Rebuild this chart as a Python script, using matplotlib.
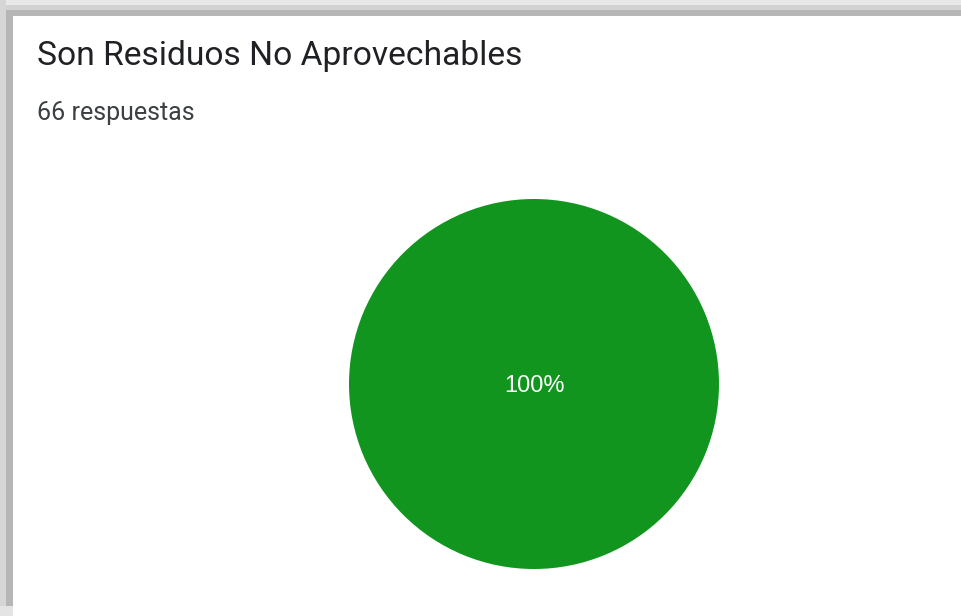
import matplotlib.pyplot as plt
from matplotlib.patches import Rectangle

# Data
title = 'Son Residuos No Aprovechables'
subtitle = '66 respuestas'
categories = ['Sí']
values = [66]
colors = ['#12951e']

W, H = 961, 616
fig = plt.figure(figsize=(W / 100, H / 100), dpi=100)
fig.patch.set_facecolor('white')

# Card shadow along top and left edges
def px_rect(x, y, w, h, color):
    fig.patches.append(Rectangle((x / W, 1 - (y + h) / H), w / W, h / H,
                                 transform=fig.transFigure, color=color,
                                 lw=0, zorder=0))

px_rect(0, 0, W, 5, '#e8e8e8')
px_rect(0, 5, W, 5, '#d2d2d2')
px_rect(0, 10, W, 6, '#b6b6b6')
px_rect(0, 0, 6, H, '#d6d6d6')
px_rect(6, 10, 7, H, '#b6b6b6')
px_rect(0, H - 10, 13, 10, '#e4e4e4')

# Title and subtitle
fig.text(37 / W, 1 - 65 / H, title, fontsize=24.2, family='Roboto',
         color='#202124', va='baseline', ha='left')
fig.text(37 / W, 1 - 120 / H, subtitle, fontsize=18, family='Roboto',
         color='#3c4043', va='baseline', ha='left')

# Pie
cx, cy, r = 534, 384, 185
ax = fig.add_axes([(cx - r) / W, 1 - (cy + r) / H, 2 * r / W, 2 * r / H])
wedges, texts, autotexts = ax.pie(values, colors=colors, startangle=90,
                                  autopct='%1.0f%%', pctdistance=0,
                                  radius=1, wedgeprops={'linewidth': 0})
for t in autotexts:
    t.set_color('white')
    t.set_fontsize(17)
    t.set_family('Liberation Sans')
    t.set_position((0, -0.01))
ax.set_xlim(-1, 1)
ax.set_ylim(-1, 1)
ax.set_aspect('equal')
ax.axis('off')

fig.savefig('out.png', dpi=100)
